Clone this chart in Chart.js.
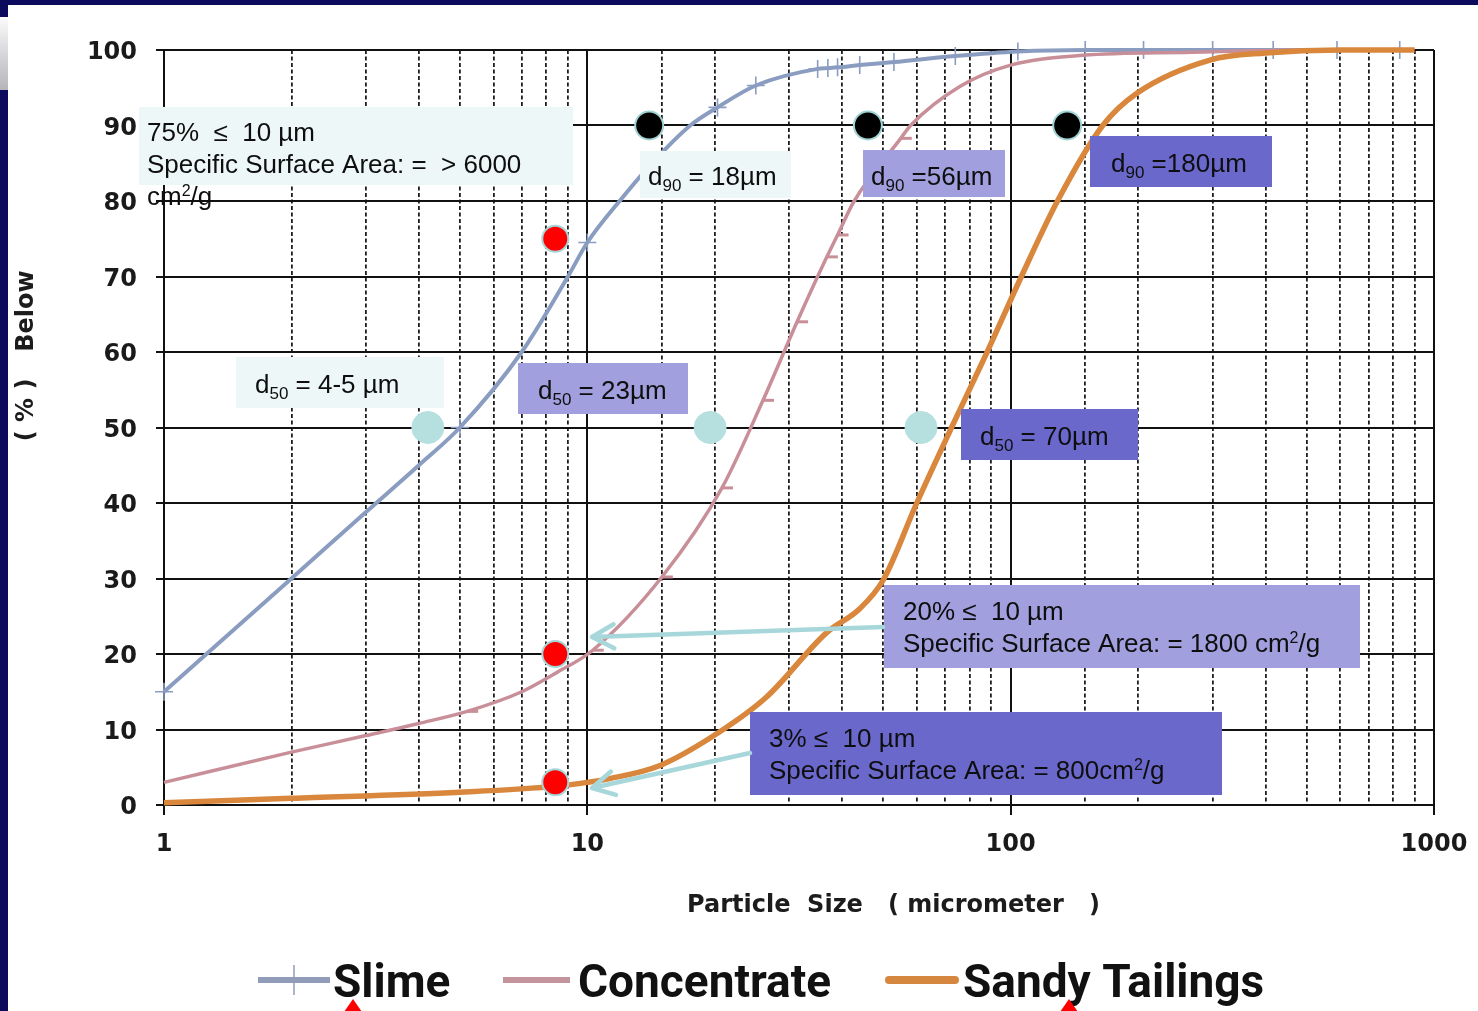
<!DOCTYPE html>
<html>
<head>
<meta charset="utf-8">
<title>Particle size distribution</title>
<script src="https://cdn.jsdelivr.net/npm/chart.js@4.4.1/dist/chart.umd.min.js"></script>
<style>
  html, body { margin: 0; padding: 0; width: 1478px; height: 1011px; overflow: hidden; background: #0b0a5c; }
  #sheet { position: absolute; left: 8px; top: 5px; width: 1470px; height: 1006px; background: #ffffff; }
  #tab { position: absolute; left: 0; top: 17px; width: 8px; height: 73px; background: linear-gradient(#fbfbfb, #b4b4ba); }
  #c { position: absolute; left: 0; top: 0; }
</style>
</head>
<body>
<div id="sheet"></div>
<div id="tab"></div>
<canvas id="c" width="1478" height="1011"></canvas>
<script>
// Cumulative percent passing vs particle size (micrometer)
const slimeSize    = [1, 2, 3, 4, 5, 7, 9, 10, 12, 14, 17.5, 20.3, 25, 35, 37, 39, 44, 53, 74, 104, 150, 206, 300, 417, 590, 830];
const slimePassing = [15, 30, 38.8, 45, 50, 60, 70, 74.5, 80.2, 84.6, 90, 92.4, 95.3, 97.5, 97.6, 97.7, 98, 98.4, 99.2, 99.8, 100, 100, 100, 100, 100, 100];
const slimeSampled = [1, 0, 0, 0, 1, 0, 0, 1, 0, 0, 0, 1, 1, 1, 1, 1, 1, 1, 1, 1, 1, 1, 1, 1, 1, 1];

const concSize    = [1, 2, 3, 4, 5.2, 7, 8.5, 10.3, 15, 20.8, 26, 31.3, 36.8, 39, 42.7, 55, 58, 76, 100, 148, 267, 500, 880];
const concPassing = [3, 7, 9.2, 10.8, 12.4, 15, 17.6, 20.5, 30.2, 42, 53.6, 64, 72.6, 75.5, 80, 88.3, 90, 95.2, 98, 99.3, 99.7, 100, 100];
const concSampled = [0, 0, 0, 0, 1, 0, 0, 1, 1, 1, 1, 1, 1, 1, 0, 1, 0, 0, 0, 0, 0, 0, 0];

const sandSize    = [1, 2, 5, 8.5, 10, 11.3, 14.8, 20.3, 26.5, 36.7, 44, 50, 60, 72.5, 88, 106, 129, 165, 199, 297, 400, 600, 900];
const sandPassing = [0.3, 0.9, 1.7, 2.5, 3, 3.5, 5.2, 9.5, 14.3, 22.8, 26, 29.8, 40, 50, 60, 70, 80, 90, 94.3, 98.7, 99.6, 100, 100];

// Reference dots next to the curves
const d50Size  = [4.2, 19.5, 61.4];
const d50Level = [50, 50, 50];
const d90Size  = [14, 46, 136];
const d90Level = [90, 90, 90];
const fineSize  = [8.4, 8.4, 8.4];
const fineLevel = [75, 20, 3];

const seriesNames = ['Slime', 'Concentrate', 'Sandy Tailings'];
const yTicks = [0, 10, 20, 30, 40, 50, 60, 70, 80, 90, 100];
const xTicks = [1, 10, 100, 1000];

const toPoints = (xs, ys) => xs.map((x, i) => ({ x, y: ys[i] }));
const isDecade = v => Math.abs(Math.log10(v) - Math.round(Math.log10(v))) < 1e-9;

const SLIME = '#8a9dc1', CONC = '#c98f99', SAND = '#d8873c';
const TEXT_FONT = '"Liberation Sans", Arial, sans-serif';
const AXIS_FONT = '"DejaVu Sans", Verdana, sans-serif';

// Text boxes; "_{..}" is a subscript and "^{..}" a superscript
const notes = [
  { x: 139, y: 107, w: 434, h: 78, fill: '#eef7f7', tx: 147,
    lines: [['75%  \u2264  10 \u00b5m', 141], ['Specific Surface Area: =  > 6000', 173], ['cm^{2}/g', 205]] },
  { x: 236, y: 357, w: 208, h: 51, fill: '#eef7f7', tx: 255, lines: [['d_{50} = 4-5 \u00b5m', 393]] },
  { x: 518, y: 363, w: 170, h: 51, fill: '#a19fdd', tx: 538, lines: [['d_{50} = 23\u00b5m', 399]] },
  { x: 640, y: 151, w: 151, h: 47, fill: '#eef7f7', tx: 648, lines: [['d_{90} = 18\u00b5m', 185]] },
  { x: 863, y: 150, w: 142, h: 47, fill: '#a19fdd', tx: 871, lines: [['d_{90} =56\u00b5m', 185]] },
  { x: 1090, y: 136, w: 182, h: 51, fill: '#6b68cc', tx: 1111, lines: [['d_{90} =180\u00b5m', 172]] },
  { x: 961, y: 409, w: 177, h: 51, fill: '#6b68cc', tx: 980, lines: [['d_{50} = 70\u00b5m', 445]] },
  { x: 884, y: 585, w: 476, h: 83, fill: '#a19fdd', tx: 903,
    lines: [['20% \u2264  10 \u00b5m', 620], ['Specific Surface Area: = 1800 cm^{2}/g', 652]] },
  { x: 750, y: 712, w: 472, h: 83, fill: '#6b68cc', tx: 769,
    lines: [['3% \u2264  10 \u00b5m', 747], ['Specific Surface Area: = 800cm^{2}/g', 779]] }
];

const arrows = [
  { from: [883, 627], to: [592, 637] },
  { from: [750, 753], to: [592, 788] }
];

function drawRich(ctx, str, x, y, size) {
  const parts = str.split(/(_\{[^}]*\}|\^\{[^}]*\})/);
  let cx = x;
  parts.forEach(p => {
    if (!p) return;
    let txt = p, fs = size, dy = 0;
    if (p.startsWith('_{')) { txt = p.slice(2, -1); fs = Math.round(size * 0.66); dy = 6; }
    else if (p.startsWith('^{')) { txt = p.slice(2, -1); fs = Math.round(size * 0.6); dy = -9; }
    ctx.font = fs + 'px ' + TEXT_FONT;
    ctx.fillText(txt, cx, y + dy);
    cx += ctx.measureText(txt).width;
  });
}

function drawArrow(ctx, a) {
  const [x1, y1] = a.from, [x2, y2] = a.to;
  const ang = Math.atan2(y2 - y1, x2 - x1);
  const len = 25, spread = 0.5;
  ctx.beginPath();
  ctx.moveTo(x1, y1);
  ctx.lineTo(x2, y2);
  ctx.moveTo(x2 - len * Math.cos(ang - spread), y2 - len * Math.sin(ang - spread));
  ctx.lineTo(x2, y2);
  ctx.lineTo(x2 - len * Math.cos(ang + spread), y2 - len * Math.sin(ang + spread));
  ctx.stroke();
}

const decor = {
  id: 'decor',
  afterDatasetsDraw(chart) {
    const ctx = chart.ctx;
    ctx.save();
    notes.forEach(n => {
      ctx.fillStyle = n.fill;
      ctx.fillRect(n.x, n.y, n.w, n.h);
    });
    ctx.fillStyle = '#0e0e0e';
    ctx.textBaseline = 'alphabetic';
    ctx.textAlign = 'left';
    notes.forEach(n => n.lines.forEach(([s, by]) => drawRich(ctx, s, n.tx, by, 26)));
    ctx.strokeStyle = '#a7d7da';
    ctx.lineWidth = 4.5;
    ctx.lineCap = 'round';
    ctx.lineJoin = 'round';
    arrows.forEach(a => drawArrow(ctx, a));
    ctx.restore();
  },
  afterDraw(chart) {
    const ctx = chart.ctx;
    ctx.save();
    // axis titles
    ctx.fillStyle = '#1c1c1c';
    ctx.font = 'bold 24px ' + AXIS_FONT;
    ctx.textBaseline = 'alphabetic';
    ctx.textAlign = 'left';
    ctx.fillText('Particle  Size   ( micrometer   )', 687, 912);
    ctx.save();
    ctx.translate(33, 0);
    ctx.rotate(-Math.PI / 2);
    ctx.textAlign = 'center';
    ctx.fillText('( % )', -410, 0);
    ctx.fillText('Below', -311, 0);
    ctx.restore();

    // legend
    const ds = chart.data.datasets;
    const items = [
      { i: 0, x0: 258, x1: 330, tx: 333, w: 6, cap: 'butt', color: '#909cb8' },
      { i: 1, x0: 503, x1: 570, tx: 578, w: 6, cap: 'butt', color: '#c4949c' },
      { i: 2, x0: 889, x1: 955, tx: 963, w: 8, cap: 'round', color: '#d6873f' }
    ];
    const ly = 980;
    items.forEach(it => {
      ctx.strokeStyle = it.color;
      ctx.lineWidth = it.w;
      ctx.lineCap = it.cap;
      ctx.beginPath();
      ctx.moveTo(it.x0, ly);
      ctx.lineTo(it.x1, ly);
      ctx.stroke();
      if (ds[it.i].pointStyle === 'cross') {
        ctx.lineWidth = 1.5;
        ctx.lineCap = 'butt';
        ctx.beginPath();
        ctx.moveTo((it.x0 + it.x1) / 2, ly - 15);
        ctx.lineTo((it.x0 + it.x1) / 2, ly + 15);
        ctx.stroke();
      }
      ctx.fillStyle = '#111111';
      ctx.font = 'bold 46px Roboto, "Liberation Sans", sans-serif';
      ctx.fillText(ds[it.i].label, it.tx, 997);
    });

    // small red pointer marks along the bottom edge
    ctx.fillStyle = '#ff0000';
    [353, 1069].forEach(px => {
      ctx.beginPath();
      ctx.moveTo(px, 999);
      ctx.lineTo(px - 9, 1012);
      ctx.lineTo(px + 9, 1012);
      ctx.closePath();
      ctx.fill();
    });
    ctx.restore();
  }
};

const dotStyle = (bg, border, r, bw) => ({
  showLine: false, pointRadius: r, pointBackgroundColor: bg, pointBorderColor: border,
  pointBorderWidth: bw, pointHoverRadius: r, clip: false
});

const chart = new Chart(document.getElementById('c'), {
  type: 'scatter',
  data: {
    datasets: [
      {
        label: seriesNames[0], data: toPoints(slimeSize, slimePassing), showLine: true,
        borderColor: SLIME, borderWidth: 4, cubicInterpolationMode: 'monotone',
        pointStyle: 'cross', pointRadius: c => slimeSampled[c.dataIndex] ? 9 : 0,
        pointBorderColor: SLIME, pointBorderWidth: 1.6, clip: false, order: 6
      },
      {
        label: seriesNames[1], data: toPoints(concSize, concPassing), showLine: true,
        borderColor: CONC, borderWidth: 3.5, cubicInterpolationMode: 'monotone',
        pointStyle: 'dash', pointRadius: c => concSampled[c.dataIndex] ? 11 : 0,
        pointBorderColor: CONC, pointBorderWidth: 3, clip: false, order: 5
      },
      {
        label: seriesNames[2], data: toPoints(sandSize, sandPassing), showLine: true,
        borderColor: SAND, borderWidth: 5.5, cubicInterpolationMode: 'monotone',
        pointRadius: 0, clip: false, order: 4
      },
      Object.assign({ label: 'd50', data: toPoints(d50Size, d50Level), order: 3 }, dotStyle('#b6dfe0', '#b6dfe0', 16, 1)),
      Object.assign({ label: 'd90', data: toPoints(d90Size, d90Level), order: 2 }, dotStyle('#000000', '#a2d3d4', 14, 2)),
      Object.assign({ label: 'fines', data: toPoints(fineSize, fineLevel), order: 1 }, dotStyle('#ff0000', '#a6d6d8', 13, 2))
    ]
  },
  options: {
    responsive: false,
    animation: false,
    devicePixelRatio: 1,
    events: [],
    layout: { padding: { top: 50, right: 44, left: 0, bottom: 0 } },
    plugins: { legend: { display: false }, tooltip: { enabled: false } },
    scales: {
      x: {
        type: 'logarithmic', min: 1, max: 1000,
        afterFit: s => { s.height = 206; s.paddingLeft = 0; s.paddingRight = 0; },
        afterBuildTicks: s => { s.ticks = s.ticks.filter(t => t.value >= 1 && t.value <= 1000); },
        ticks: {
          autoSkip: false, maxRotation: 0, minRotation: 0, padding: 15,
          color: '#1a1a1a', font: { family: AXIS_FONT, size: 24, weight: 'bold' },
          callback: v => xTicks.includes(v) ? String(v) : ''
        },
        grid: {
          color: c => isDecade(c.tick.value) ? '#111111' : '#1e1e1e',
          lineWidth: c => isDecade(c.tick.value) ? 2 : 1.8,
          tickLength: 10,
          tickWidth: 2,
          tickColor: c => isDecade(c.tick.value) ? '#111111' : 'rgba(0,0,0,0)'
        },
        border: {
          display: true, color: '#111111', width: 2,
          dash: c => (c.tick && !isDecade(c.tick.value)) ? [4, 2.5] : []
        }
      },
      y: {
        type: 'linear', min: 0, max: 100,
        afterFit: s => { s.width = 164; s.paddingTop = 0; s.paddingBottom = 0; },
        afterBuildTicks: s => { s.ticks = yTicks.map(v => ({ value: v })); },
        ticks: {
          padding: 19, color: '#1a1a1a', labelOffset: 3,
          font: { family: AXIS_FONT, size: 24, weight: 'bold' }
        },
        grid: { color: '#111111', lineWidth: 2, tickLength: 8, tickWidth: 2, tickColor: '#111111' },
        border: { display: true, color: '#111111', width: 2 }
      }
    }
  },
  plugins: [decor]
});
</script>
</body>
</html>
